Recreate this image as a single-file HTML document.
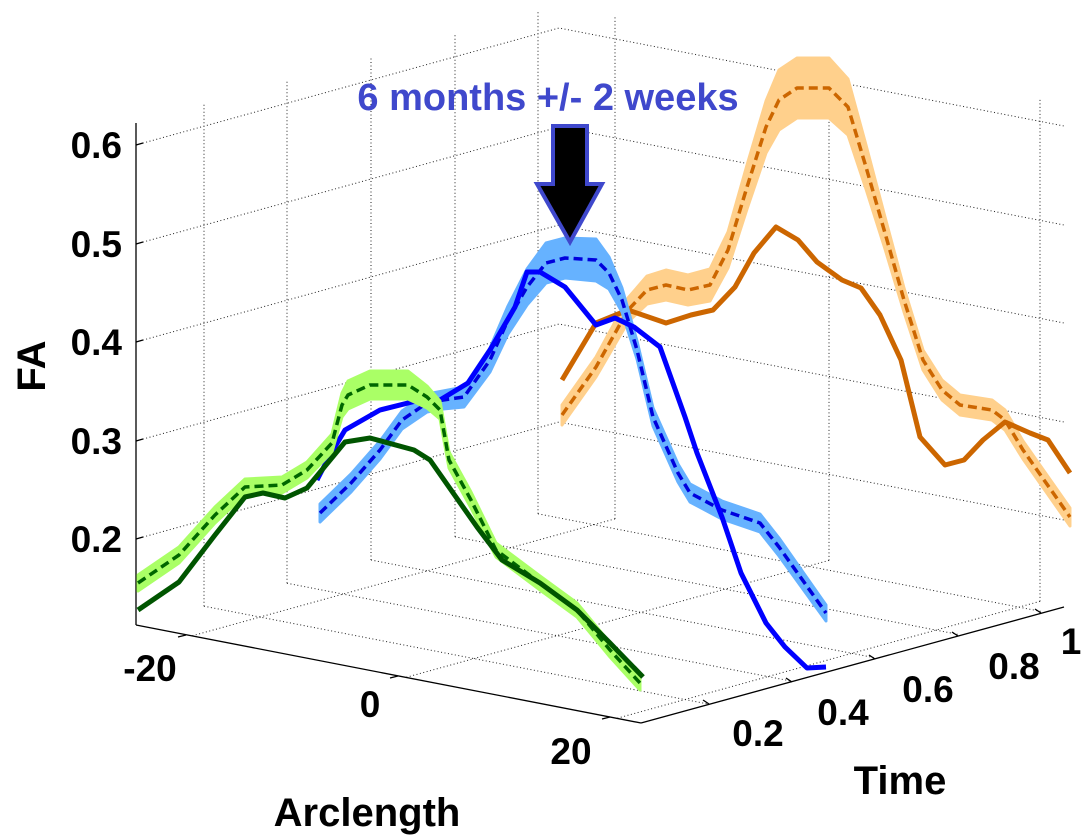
<!DOCTYPE html>
<html><head><meta charset="utf-8"><style>
html,body{margin:0;padding:0;background:#fff;}
svg{display:block;}
text{font-family:"Liberation Sans",Arial,sans-serif;font-weight:bold;fill:#000;}
</style></head><body>
<svg id="s" width="1085" height="836" viewBox="0 0 1085 836" xmlns="http://www.w3.org/2000/svg">
<g id="grid" stroke="#222" stroke-width="1" stroke-dasharray="1,2.5" fill="none"></g>
<g id="axes" stroke="#000" stroke-width="1.3" fill="none">
<line x1="136" y1="123" x2="136" y2="625"/>
<line x1="136" y1="625" x2="641" y2="723"/>
<line x1="641" y1="723" x2="1064" y2="607"/>
<line x1="136" y1="145" x2="143" y2="143"/>
<line x1="136" y1="244" x2="143" y2="242"/>
<line x1="136" y1="342" x2="143" y2="340"/>
<line x1="136" y1="441" x2="143" y2="439"/>
<line x1="136" y1="539" x2="143" y2="537"/>
<line x1="186" y1="635" x2="178" y2="637"/>
<line x1="398" y1="676" x2="390" y2="678"/>
<line x1="610" y1="717" x2="602" y2="719"/>
<line x1="709" y1="704" x2="703" y2="700"/>
<line x1="792" y1="682" x2="786" y2="678"/>
<line x1="875" y1="659" x2="869" y2="655"/>
<line x1="958" y1="636" x2="952" y2="632"/>
<line x1="1041" y1="613" x2="1035" y2="609"/>
</g>
<g id="data"></g>
<g font-size="37">
<text x="122" y="158" text-anchor="end">0.6</text>
<text x="122" y="257" text-anchor="end">0.5</text>
<text x="122" y="355" text-anchor="end">0.4</text>
<text x="122" y="454" text-anchor="end">0.3</text>
<text x="122" y="552" text-anchor="end">0.2</text>
<text x="150" y="681" text-anchor="middle">-20</text>
<text x="370" y="717" text-anchor="middle">0</text>
<text x="571" y="764" text-anchor="middle">20</text>
<text x="758" y="746" text-anchor="middle">0.2</text>
<text x="843" y="725" text-anchor="middle">0.4</text>
<text x="928" y="702" text-anchor="middle">0.6</text>
<text x="1014" y="679" text-anchor="middle">0.8</text>
<text x="1071" y="654" text-anchor="middle">1</text>
</g>
<text x="367" y="826" font-size="40" text-anchor="middle">Arclength</text>
<text x="900" y="794" font-size="40" text-anchor="middle">Time</text>
<text transform="translate(45,366) rotate(-90)" font-size="40" text-anchor="middle">FA</text>
<text x="548" y="110" font-size="38" text-anchor="middle" style="fill:#3f48cc">6 months +/- 2 weeks</text>
<polygon points="553,126 587,126 587,184 602,184 570,242 537,184 553,184" fill="#000" stroke="#3f48cc" stroke-width="4" stroke-linejoin="miter"/>
</svg>
<script>
var NS="http://www.w3.org/2000/svg";
function el(p,tag,a){var e=document.createElementNS(NS,tag);for(var k in a)e.setAttribute(k,a[k]);p.appendChild(e);return e;}
var g=document.getElementById('grid');
function ln(x1,y1,x2,y2){el(g,'line',{x1:x1,y1:y1,x2:x2,y2:y2});}
[[539,422,520],[441,324,422],[342,225,323],[244,127,225],[145,28,126]].forEach(function(r){
 el(g,'polyline',{points:"136,"+r[0]+" 559,"+r[1]+" 1064,"+r[2]});});
[204,287,371,455,538].forEach(function(x){var fy=625-(x-136)*0.2766;ln(x,fy,x,fy-502);ln(x,fy,x+505,fy+98);});
[615,829,1040].forEach(function(x){var fy=508+(x-559)*0.194;ln(x,fy,x,fy-502);ln(x,fy,x-423,fy+117);});
var d=document.getElementById('data');
function pts(a){return a.map(function(p){return p[0]+","+p[1]}).join(" ");}
function band(a,col){var top=a.map(function(p){return [p[0],p[1]-p[2]]});var bot=a.map(function(p){return [p[0],p[1]+p[2]]}).reverse();
 el(d,'polygon',{points:pts(top.concat(bot)),fill:col,stroke:col,'stroke-width':3,'stroke-linejoin':'round'});}
function line(a,col,w,dash){var o={points:pts(a),fill:'none',stroke:col,'stroke-width':w,'stroke-linejoin':'round'};if(dash)o['stroke-dasharray']=dash;el(d,'polyline',o);}
var oD=[[562,415,10],[596,367,10],[628,310,12],[647,290,14],[666,285,15],[688,290,15],[710,285,16],[728,250,18],[747,187,22],[766,127,26],[779,100,30],[797,88,30],[829,88,30],[848,107,28],[866,167,22],[885,233,16],[904,300,12],[923,360,10],[942,390,10],[960,405,10],[992,410,10],[1005,420,10],[1023,450,9],[1070,517,9]];
band(oD,'#ffd08c');line(oD,'#cc6600',3.5,'9,5');
line([[562,380],[596,323],[628,310],[666,323],[691,315],[713,310],[735,287],[754,253],[776,227],[798,240],[817,262],[842,280],[861,288],[880,315],[901,360],[920,437],[945,465],[964,460],[983,440],[1005,422],[1030,433],[1048,440],[1070,473]],'#cc6600',5);
var bD=[[320,513,9],[351,483,9],[380,450,9],[402,420,9],[427,403,9],[443,400,9],[464,397,10],[490,360,12],[508,320,14],[527,287,18],[546,263,20],[565,258,20],[596,260,21],[609,273,16],[622,300,12],[637,350,9],[653,417,9],[678,473,9],[690,493,9],[722,510,9],[760,523,9],[779,547,9],[826,613,8]];
band(bD,'#66b2ff');line(bD,'#0000dd',3.5,'9,5');
line([[317,480],[330,455],[345,430],[380,410],[420,400],[440,400],[468,383],[490,350],[515,307],[527,272],[540,272],[565,287],[596,325],[615,318],[634,327],[660,347],[685,417],[697,453],[722,517],[741,573],[766,623],[785,647],[807,668],[826,667]],'#0000ff',5);
var gD=[[138,583,8],[179,555,8],[215,515,8],[245,487,8],[282,485,8],[307,470,8],[332,443,9],[342,405,12],[348,395,14],[370,385,14],[408,385,14],[427,397,11],[440,410,9],[449,460,8],[471,500,8],[496,550,7],[540,583,7],[577,610,7],[610,650,7],[640,683,7]];
band(gD,'#aaff66');line(gD,'#006600',3.5,'9,5');
line([[138,610],[179,582],[215,535],[245,497],[263,493],[285,498],[307,488],[345,442],[370,438],[414,450],[430,460],[477,527],[502,560],[540,583],[577,610],[610,643],[643,677]],'#005500',5);
</script>
</body></html>
